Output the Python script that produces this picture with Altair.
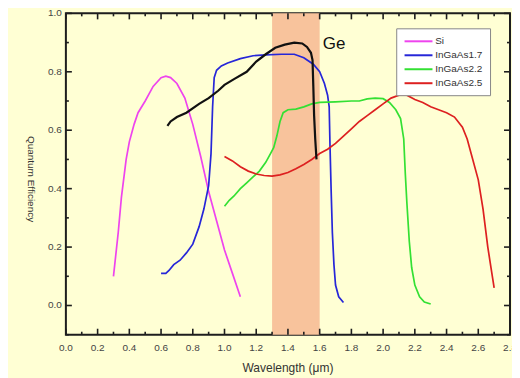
import altair as alt
import pandas as pd

# ---- data ----
si_wl = [0.30, 0.33, 0.35, 0.38, 0.40, 0.43, 0.455, 0.50, 0.55, 0.60, 0.63, 0.66, 0.70, 0.75,
         0.80, 0.85, 0.90, 0.95, 1.00, 1.05, 1.10]
si_qe = [0.10, 0.25, 0.37, 0.50, 0.56, 0.62, 0.66, 0.70, 0.75, 0.78, 0.785, 0.78, 0.76, 0.71,
         0.62, 0.51, 0.39, 0.29, 0.19, 0.11, 0.03]

in17_wl = [0.60, 0.63, 0.65, 0.68, 0.72, 0.76, 0.80, 0.84, 0.87, 0.90, 0.915, 0.925, 0.935, 0.95,
           0.98, 1.02, 1.10, 1.18, 1.26, 1.36, 1.44, 1.50, 1.56, 1.60, 1.63, 1.65, 1.66, 1.665,
           1.672, 1.68, 1.69, 1.70, 1.72, 1.75]
in17_qe = [0.11, 0.11, 0.12, 0.14, 0.155, 0.18, 0.21, 0.27, 0.33, 0.41, 0.52, 0.68, 0.78, 0.805,
           0.82, 0.83, 0.845, 0.855, 0.858, 0.86, 0.86, 0.848, 0.826, 0.80, 0.76, 0.72, 0.68, 0.55,
           0.40, 0.25, 0.14, 0.07, 0.03, 0.01]

in22_wl = [1.00, 1.03, 1.06, 1.10, 1.14, 1.18, 1.22, 1.26, 1.29, 1.31, 1.33, 1.35, 1.37, 1.40,
           1.45, 1.50, 1.55, 1.60, 1.70, 1.80, 1.85, 1.90, 1.95, 2.00, 2.04, 2.08, 2.11, 2.13,
           2.14, 2.15, 2.165, 2.18, 2.20, 2.23, 2.26, 2.30]
in22_qe = [0.34, 0.36, 0.375, 0.40, 0.42, 0.44, 0.46, 0.49, 0.52, 0.54, 0.58, 0.63, 0.66, 0.67,
           0.672, 0.68, 0.69, 0.695, 0.697, 0.70, 0.70, 0.707, 0.71, 0.708, 0.695, 0.67, 0.64, 0.57,
           0.45, 0.35, 0.22, 0.13, 0.07, 0.03, 0.012, 0.005]

in25_wl = [1.00, 1.05, 1.10, 1.15, 1.20, 1.25, 1.30, 1.35, 1.40, 1.45, 1.50, 1.55, 1.60, 1.65,
           1.70, 1.75, 1.80, 1.85, 1.90, 1.95, 2.00, 2.05, 2.10, 2.15, 2.20, 2.25, 2.30, 2.35,
           2.40, 2.45, 2.50, 2.53, 2.56, 2.60, 2.63, 2.66, 2.68, 2.70]
in25_qe = [0.51, 0.495, 0.475, 0.46, 0.45, 0.445, 0.443, 0.447, 0.455, 0.468, 0.483, 0.50, 0.52,
           0.535, 0.555, 0.58, 0.605, 0.63, 0.65, 0.67, 0.69, 0.71, 0.72, 0.72, 0.705, 0.695, 0.68,
           0.67, 0.66, 0.645, 0.61, 0.57, 0.51, 0.43, 0.33, 0.20, 0.13, 0.06]

ge_wl = [0.64, 0.66, 0.70, 0.76, 0.84, 0.90, 0.96, 1.00, 1.06, 1.14, 1.20, 1.26, 1.32, 1.38,
         1.44, 1.49, 1.52, 1.545, 1.555, 1.56, 1.565, 1.572, 1.58]
ge_qe = [0.615, 0.63, 0.645, 0.66, 0.69, 0.71, 0.735, 0.755, 0.775, 0.80, 0.835, 0.86, 0.882,
         0.893, 0.90, 0.897, 0.885, 0.865, 0.84, 0.75, 0.65, 0.57, 0.50]

series_names = ["Si", "InGaAs1.7", "InGaAs2.2", "InGaAs2.5"]
series_colors = ["#ee44ee", "#2626d8", "#33e033", "#dd2020"]

band_start = [1.3]
band_end = [1.6]
y_domain = [-0.1, 1.0]
x_domain = [0.0, 2.8]
major_x = [round(0.2 * i, 1) for i in range(15)]
minor_x = [round(0.1 + 0.2 * i, 1) for i in range(14)]
major_y = [0.0, 0.2, 0.4, 0.6, 0.8, 1.0]
minor_y = [-0.1, 0.1, 0.3, 0.5, 0.7, 0.9]
x_tick_labels = ["0.0", "0.2", "0.4", "0.6", "0.8", "1.0", "1.2", "1.4", "1.6", "1.8",
                 "2.0", "2.2", "2.4", "2.6", "2.8"]
y_tick_labels = ["0.0", "0.2", "0.4", "0.6", "0.8", "1.0"]
x_title = ["Wavelength (μm)"]
y_title = ["Quantum Efficiency"]

ge_label = ["Ge"]
ge_label_x = [1.62]
ge_label_y = [0.895]

W, H = 445, 322
MAJOR_LEN, MINOR_LEN = 6, 3

# ---- tables ----
rows = []
for name, xs, ys in zip(series_names, [si_wl, in17_wl, in22_wl, in25_wl],
                        [si_qe, in17_qe, in22_qe, in25_qe]):
    for i, (a, b) in enumerate(zip(xs, ys)):
        rows.append({"series": name, "wl": a, "qe": b, "order": i})
df = pd.DataFrame(rows)
ge_df = pd.DataFrame({"wl": ge_wl, "qe": ge_qe, "order": list(range(len(ge_wl)))})
band_df = pd.DataFrame({"x0": band_start, "x1": band_end,
                        "y0": [y_domain[0]], "y1": [y_domain[1]]})
txt_df = pd.DataFrame({"t": ge_label, "x": ge_label_x, "y": ge_label_y})
xlab_df = pd.DataFrame({"v": major_x, "lab": x_tick_labels})
ylab_df = pd.DataFrame({"v": major_y, "lab": y_tick_labels})

XS = alt.Scale(domain=x_domain, nice=False, zero=False)
YS = alt.Scale(domain=y_domain, nice=False, zero=False)

TICK = "#1e1e1e"
FONT = "Liberation Sans"

band = alt.Chart(band_df).mark_rect(color="#f8c39c").encode(
    x=alt.X("x0:Q", scale=XS, axis=None),
    x2="x1:Q",
    y=alt.Y("y0:Q", scale=YS, axis=None),
    y2="y1:Q",
)


def x_ticks(values, length):
    d = pd.DataFrame({"v": values})
    base = alt.Chart(d).mark_rule(color=TICK, strokeWidth=1.6)
    bottom = base.encode(x=alt.X("v:Q", scale=XS, axis=None),
                         y=alt.value(H), y2=alt.value(H - length))
    top = base.encode(x=alt.X("v:Q", scale=XS, axis=None),
                      y=alt.value(0), y2=alt.value(length))
    return [bottom, top]


def y_ticks(values, length):
    d = pd.DataFrame({"v": values})
    base = alt.Chart(d).mark_rule(color=TICK, strokeWidth=1.6)
    left = base.encode(y=alt.Y("v:Q", scale=YS, axis=None),
                       x=alt.value(0), x2=alt.value(length))
    right = base.encode(y=alt.Y("v:Q", scale=YS, axis=None),
                        x=alt.value(W), x2=alt.value(W - length))
    return [left, right]


tick_layers = (x_ticks(major_x, MAJOR_LEN) + x_ticks(minor_x, MINOR_LEN)
               + y_ticks(major_y, MAJOR_LEN) + y_ticks(minor_y, MINOR_LEN))

x_labels = alt.Chart(xlab_df).mark_text(align="center", baseline="middle", fontSize=10,
                                        font=FONT, color="#444").encode(
    x=alt.X("v:Q", scale=XS, axis=None), y=alt.value(H + 13), text="lab:N")
y_labels = alt.Chart(ylab_df).mark_text(align="right", baseline="middle", fontSize=10,
                                        font=FONT, color="#444").encode(
    y=alt.Y("v:Q", scale=YS, axis=None), x=alt.value(-4), text="lab:N")
x_title_mark = alt.Chart(pd.DataFrame({"t": x_title})).mark_text(
    align="center", baseline="middle", fontSize=12, font=FONT, color="#333").encode(
    x=alt.value(W / 2), y=alt.value(H + 33), text="t:N")
y_title_mark = alt.Chart(pd.DataFrame({"t": y_title})).mark_text(
    align="center", baseline="middle", fontSize=10, font=FONT, color="#333", angle=90).encode(
    x=alt.value(-35), y=alt.value(H / 2 + 5), text="t:N")

lines = alt.Chart(df).mark_line(strokeWidth=1.7).encode(
    x=alt.X("wl:Q", scale=XS, axis=None),
    y=alt.Y("qe:Q", scale=YS, axis=None),
    color=alt.Color("series:N", scale=alt.Scale(domain=series_names, range=series_colors),
                    sort=series_names,
                    legend=alt.Legend(title=None, orient="none", legendX=331, legendY=15,
                                      symbolType="M-1,0H5", symbolSize=87, symbolStrokeWidth=2,
                                      labelFontSize=10, labelColor="#333", labelOffset=20,
                                      fillColor="white", strokeColor="#888", padding=7,
                                      rowPadding=3, labelFont=FONT)),
    order="order:Q",
)

ge = alt.Chart(ge_df).mark_line(strokeWidth=2.2, color="#111111").encode(
    x=alt.X("wl:Q", scale=XS, axis=None),
    y=alt.Y("qe:Q", scale=YS, axis=None),
    order="order:Q",
)

ge_text = alt.Chart(txt_df).mark_text(align="left", baseline="middle", fontSize=17,
                                      font=FONT, color="#111").encode(
    x=alt.X("x:Q", scale=XS, axis=None),
    y=alt.Y("y:Q", scale=YS, axis=None),
    text="t:N",
)

chart = alt.layer(band, *tick_layers, x_labels, y_labels, x_title_mark, y_title_mark,
                  lines, ge, ge_text).properties(
    width=W, height=H,
    autosize=alt.AutoSizeParams(type="none"),
    padding={"left": 58, "top": 5, "right": 2, "bottom": 43},
    background="#ffffd4",
).configure_view(
    stroke="#1e1e1e", strokeWidth=2, fill="#ffffd4"
)

chart.save("out.html", embed_options={"renderer": "svg", "actions": False})
